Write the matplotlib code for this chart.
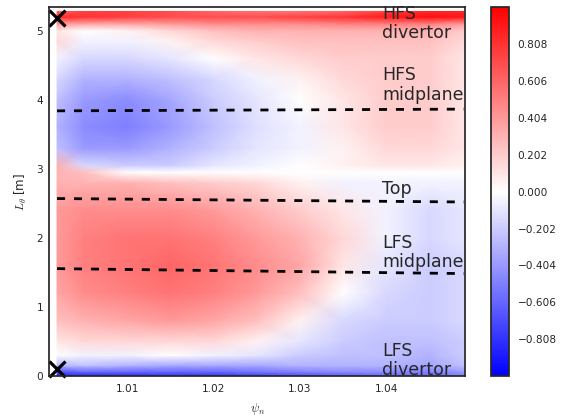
import numpy as np
import matplotlib
matplotlib.use("Agg")
import matplotlib.pyplot as plt

# grid of the field (psi_n columns, L_theta rows)
psi = [1.0019, 1.005, 1.01, 1.015, 1.02, 1.025, 1.03, 1.035, 1.04, 1.045, 1.049]
L = [0.0, 0.06, 0.15, 0.3, 0.5, 0.8, 1.2, 1.6, 2.0, 2.4, 2.8, 2.95, 3.05,
     3.3, 3.6, 4.0, 4.3, 4.6, 4.85, 5.0, 5.1, 5.2, 5.28]
field = [
    [-0.85, -0.85, -0.85, -0.8, -0.8, -0.75, -0.7, -0.65, -0.6, -0.6, -0.5],
    [-0.7, -0.6, -0.6, -0.6, -0.6, -0.55, -0.5, -0.45, -0.45, -0.5, -0.4],
    [-0.3, -0.25, -0.3, -0.35, -0.35, -0.35, -0.3, -0.3, -0.3, -0.35, -0.25],
    [0.0, -0.05, -0.05, 0.0, -0.05, -0.1, -0.2, -0.25, -0.25, -0.3, -0.2],
    [0.1, 0.15, 0.15, 0.15, 0.15, 0.05, -0.1, -0.2, -0.25, -0.25, -0.2],
    [0.25, 0.3, 0.35, 0.4, 0.35, 0.25, 0.05, -0.15, -0.2, -0.2, -0.15],
    [0.35, 0.45, 0.5, 0.55, 0.5, 0.4, 0.25, 0.0, -0.15, -0.2, -0.15],
    [0.4, 0.5, 0.55, 0.6, 0.55, 0.45, 0.35, 0.1, -0.1, -0.2, -0.15],
    [0.4, 0.5, 0.55, 0.55, 0.5, 0.4, 0.3, 0.15, -0.05, -0.15, -0.1],
    [0.4, 0.45, 0.45, 0.45, 0.4, 0.3, 0.2, 0.1, -0.05, -0.15, -0.1],
    [0.3, 0.3, 0.3, 0.25, 0.2, 0.15, 0.05, -0.05, -0.05, -0.05, -0.05],
    [0.3, 0.25, 0.0, 0.0, 0.0, 0.0, 0.0, 0.0, 0.0, 0.0, 0.0],
    [0.3, -0.15, -0.2, -0.2, -0.1, -0.05, 0.0, 0.05, 0.1, 0.1, 0.05],
    [-0.25, -0.4, -0.4, -0.3, -0.2, -0.1, -0.05, 0.05, 0.15, 0.15, 0.1],
    [-0.3, -0.45, -0.5, -0.4, -0.25, -0.12, -0.05, 0.1, 0.2, 0.2, 0.1],
    [-0.25, -0.4, -0.45, -0.35, -0.2, -0.1, 0.0, 0.1, 0.2, 0.2, 0.1],
    [-0.15, -0.3, -0.3, -0.25, -0.15, -0.05, 0.05, 0.15, 0.2, 0.2, 0.1],
    [-0.05, -0.15, -0.15, -0.1, 0.0, 0.1, 0.15, 0.2, 0.2, 0.2, 0.1],
    [0.15, -0.05, -0.05, 0.05, 0.15, 0.2, 0.25, 0.25, 0.25, 0.25, 0.15],
    [0.1, 0.0, 0.05, 0.15, 0.25, 0.3, 0.3, 0.3, 0.3, 0.3, 0.2],
    [0.4, 0.35, 0.35, 0.4, 0.45, 0.45, 0.45, 0.5, 0.5, 0.5, 0.4],
    [0.85, 0.8, 0.75, 0.7, 0.7, 0.7, 0.75, 0.8, 0.9, 0.95, 0.9],
    [0.6, 0.75, 0.75, 0.7, 0.6, 0.55, 0.55, 0.6, 0.75, 0.85, 0.85],
]

# dashed region lines
line_psi = [1.0019, 1.049]
hfs_mid_L = [3.84, 3.865]
top_L = [2.57, 2.52]
lfs_mid_L = [1.555, 1.483]

# X markers
x_psi = [1.0019, 1.0019]
x_L = [5.19, 0.106]

labels = ["HFS\ndivertor", "HFS\nmidplane", "Top", "LFS\nmidplane", "LFS\ndivertor"]
label_L = [4.89, 4.0, 2.63, 1.575, 0.01]   # baseline of last line
label_psi = 1.0395

cbar_ticks = [-0.808, -0.606, -0.404, -0.202, 0.0, 0.202, 0.404, 0.606, 0.808]

plt.rcParams['font.family'] = ['DejaVu Sans']
plt.rcParams['mathtext.fontset'] = 'cm'
plt.rcParams['axes.edgecolor'] = '.15'
plt.rcParams['axes.linewidth'] = 1.25

fig = plt.figure(figsize=(5.71, 4.16), dpi=100)
ax = fig.add_axes([0.0863, 0.0962, 0.728, 0.8863])
cax = fig.add_axes([0.8594, 0.0962, 0.0326, 0.8863])

mesh = ax.pcolormesh(psi, L, np.array(field), cmap='bwr', vmin=-1.01, vmax=1.01,
                     shading='gouraud', rasterized=True)

for yy in [hfs_mid_L, top_L, lfs_mid_L]:
    ax.plot(line_psi, yy, color='k', lw=2.0, dashes=(2.9, 3.2))

ax.plot(x_psi, x_L, 'x', color='k', ms=11, mew=2.3, clip_on=False)

for lab, ly in zip(labels, label_L):
    ax.text(label_psi, ly, lab, fontsize=12.5, color='.15', ha='left', va='baseline',
            linespacing=1.1)

ax.set_xlim(1.001, 1.0491)
ax.set_ylim(0, 5.34)
ax.set_xticks([1.01, 1.02, 1.03, 1.04])
ax.set_yticks([0, 1, 2, 3, 4, 5])
ax.tick_params(axis='x', length=0, pad=6, labelsize=7.6, labelcolor='.15')
ax.tick_params(axis='y', length=0, pad=4.5, labelsize=7.6, labelcolor='.15')
ax.set_xlabel(r'$\psi_n$', fontsize=9, color='.15', labelpad=5)
ax.set_ylabel(r'$L_\theta$ [m]', fontsize=8.5, color='.15', labelpad=5)

cb = fig.colorbar(mesh, cax=cax, ticks=cbar_ticks)
cb.ax.set_yticklabels([f'{t:.3f}'.replace('-', '\u2212') for t in cbar_ticks])
cb.ax.tick_params(length=0, pad=6, labelsize=7.6, labelcolor='.15')
cb.outline.set_linewidth(1.25)
cb.outline.set_edgecolor('.15')

fig.savefig('out.png', dpi=100)
